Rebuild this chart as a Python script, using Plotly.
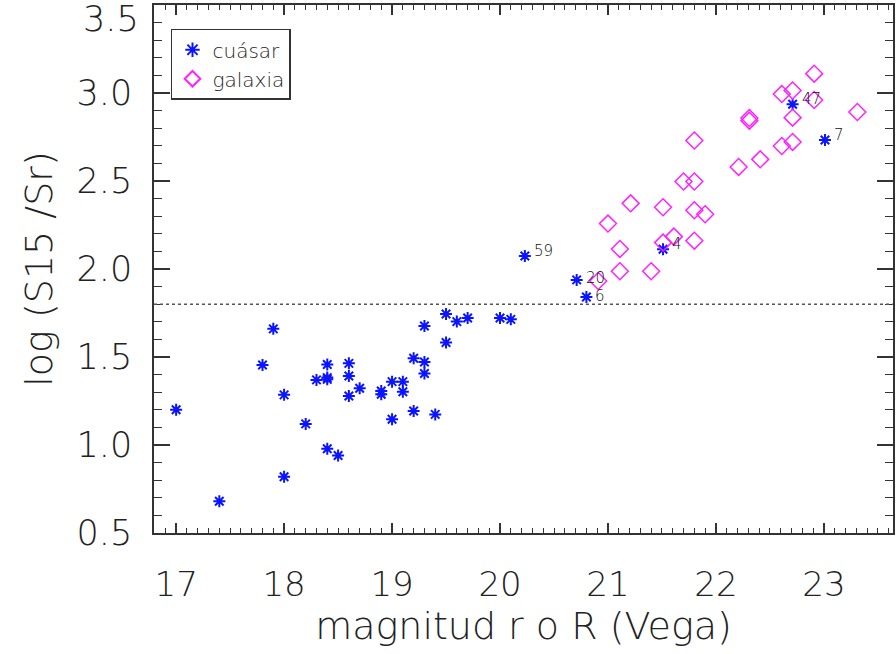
import plotly.graph_objects as go

# Quasars (blue asterisks)
quasar_mag = [17.0, 17.4, 17.8, 17.9, 18.0, 18.0, 18.2, 18.3, 18.4, 18.4, 18.4, 18.4,
              18.5, 18.6, 18.6, 18.6, 18.7, 18.9, 18.9, 19.0, 19.0, 19.1, 19.1,
              19.2, 19.2, 19.3, 19.3, 19.3, 19.4, 19.5, 19.5, 19.6, 19.7, 20.0, 20.1,
              20.23, 20.71, 20.8, 21.51, 22.71, 23.01]
quasar_ratio = [1.20, 0.68, 1.455, 1.66, 1.285, 0.82, 1.12, 1.37, 1.457, 1.383, 1.373, 0.979,
                0.94, 1.464, 1.392, 1.278, 1.322, 1.307, 1.288, 1.36, 1.146, 1.36, 1.303,
                1.493, 1.193, 1.472, 1.406, 1.676, 1.174, 1.744, 1.582, 1.701, 1.722, 1.722, 1.714,
                2.074, 1.938, 1.841, 2.112, 2.936, 2.733]
quasar_labels = [""] * 35 + ["59", "20", "6", "4", "47", "7"]

# Galaxies (magenta diamonds)
galaxy_mag = [22.91, 22.61, 22.71, 22.91, 22.31, 22.31, 22.71, 23.31, 21.80, 22.61, 22.71,
              22.41, 22.21, 21.70, 21.80, 21.21, 21.51, 21.80, 21.90, 21.00, 21.61, 21.51,
              21.80, 21.11, 21.11, 21.40, 20.91]
galaxy_ratio = [3.110, 2.994, 3.014, 2.960, 2.858, 2.843, 2.860, 2.892, 2.730, 2.699, 2.722,
                2.623, 2.580, 2.497, 2.497, 2.373, 2.351, 2.334, 2.311, 2.258, 2.184, 2.150,
                2.161, 2.114, 1.987, 1.987, 1.932]

threshold = 1.8

x_ticks = [17, 18, 19, 20, 21, 22, 23]
y_ticks = [0.5, 1.0, 1.5, 2.0, 2.5, 3.0, 3.5]
y_ticktext = ["0.5", "1.0", "1.5", "2.0", "2.5", "3.0", "3.5"]

FONT = "DejaVu Sans"
W = 200
TXT = "#222222"
AX = "#333333"
TICKFONT = dict(family=FONT, size=35, color=TXT, weight=W)

fig = go.Figure()
fig.add_trace(go.Scatter(
    x=quasar_mag, y=quasar_ratio, mode="markers", name="cuásar",
    marker=dict(symbol="asterisk-open", size=10, color="#0a14ff",
                line=dict(color="#0a14ff", width=2)),
))
fig.add_trace(go.Scatter(
    x=galaxy_mag, y=galaxy_ratio, mode="markers", name="galaxia",
    marker=dict(symbol="diamond-open", size=13, color="#ff22ff",
                line=dict(color="#ff22ff", width=1.5)),
))

label_yshift = {"20": 2, "6": 1}
for xm, yr, lab in zip(quasar_mag, quasar_ratio, quasar_labels):
    if lab:
        fig.add_annotation(x=xm, y=yr, text=lab, showarrow=False,
                           xanchor="left", yanchor="middle", xshift=7,
                           yshift=label_yshift.get(lab, 5),
                           font=dict(family=FONT, size=15, color="#111111", weight=300))

# top tick label drawn lowered (as in the original, so it fits inside the frame)
top_idx = len(y_ticks) - 1
fig.add_annotation(xref="paper", x=0, y=y_ticks[top_idx], text=y_ticktext[top_idx],
                   showarrow=False, xanchor="right", yanchor="middle",
                   xshift=-13, yshift=-14, font=TICKFONT)
y_ticktext_axis = y_ticktext[:top_idx] + [""]

fig.add_shape(type="line", xref="paper", x0=0, x1=1, yref="y", y0=threshold, y1=threshold,
              line=dict(color="#555555", width=1.5, dash="dot"))

axis_common = dict(
    showgrid=False, zeroline=False, showline=True, linecolor=AX, linewidth=1.5,
    mirror="allticks", ticks="inside", tickwidth=1.5, tickcolor=AX,
)

fig.update_xaxes(
    range=[16.795, 23.64], tickvals=x_ticks, ticktext=[str(v) for v in x_ticks],
    ticklen=10, tickfont=dict(family=FONT, size=34, color=TXT, weight=W), ticklabelstandoff=20,
    minor=dict(dtick=0.1, ticks="inside", ticklen=5, tickwidth=1, tickcolor=AX),
    title=dict(text="magnitud r o R (Vega)", standoff=8,
               font=dict(family=FONT, size=38, color=TXT, weight=W)),
    **axis_common,
)
fig.update_yaxes(
    range=[0.5, 3.5], tickvals=y_ticks, ticktext=y_ticktext_axis,
    ticklen=16, tickfont=TICKFONT, ticklabelstandoff=13,
    minor=dict(dtick=0.1, ticks="inside", ticklen=8, tickwidth=1, tickcolor=AX),
    title=dict(text="log (S15 /Sr)", standoff=12,
               font=dict(family=FONT, size=38, color=TXT, weight=W)),
    **axis_common,
)

fig.update_layout(
    width=896, height=654,
    margin=dict(l=154, r=1, t=5, b=121),
    paper_bgcolor="white", plot_bgcolor="white",
    showlegend=True,
    legend=dict(x=0.023, y=0.955, xanchor="left", yanchor="top",
                bordercolor=AX, borderwidth=1.5, bgcolor="white",
                font=dict(family=FONT, size=20, color=TXT, weight=W),
                itemsizing="constant", tracegroupgap=0),
)

fig.write_html("out.html")
